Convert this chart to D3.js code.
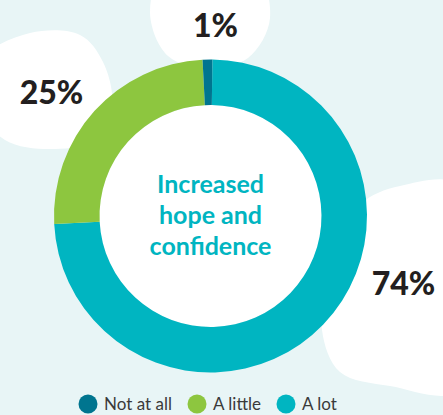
<!DOCTYPE html>
<html>
<head>
<meta charset="utf-8">
<script src="https://cdn.jsdelivr.net/npm/d3@7"></script>
<style>
  html, body { margin: 0; padding: 0; background: #e8f5f6; }
  svg { display: block; }
</style>
</head>
<body>
<svg id="donut" width="443" height="415"></svg>
<script>
// data
const categories = ["A lot", "A little", "Not at all"];
const values = [74, 25, 1];
const legendOrder = ["Not at all", "A little", "A lot"];
const colors = ["#00b5c1", "#8dc63f", "#00758f"];
const title = ["Increased", "hope and", "confidence"];

const donut = () => {
    const svg = d3.select('#donut');
    const width = +svg.attr("width");
    const height = +svg.attr("height");

    const cx = 210.5, cy = 216;
    const outerR = 156.5, innerR = 111;
    const rot = 0.012;

    svg.append("rect")
        .attr("width", width)
        .attr("height", height)
        .attr("fill", "#e8f5f6");

    // white blobs behind the labels
    const blob = d3.line().curve(d3.curveCatmullRomClosed.alpha(0.5));
    const blobs = [
        [[150, 12], [170, -40], [250, -40], [270, 18], [248, 58], [208, 68], [168, 56]],
        [[-20, 60], [30, 33], [80, 35], [103, 62], [112, 105], [95, 140], [55, 149], [5, 140], [-25, 100]],
        [[360, 205], [400, 186], [460, 186], [460, 390], [390, 386], [340, 372], [322, 330], [330, 270]]
    ];
    svg.append("g").selectAll("path")
        .data(blobs)
        .enter()
        .append("path")
        .attr("d", blob)
        .attr("fill", "#ffffff");

    const pie = d3.pie().sort(null).value(d => d.value)
        .startAngle(rot).endAngle(2 * Math.PI + rot);
    const arcs = pie(categories.map((c, i) => ({category: c, value: values[i], color: colors[i]})));
    const arc = d3.arc().innerRadius(innerR).outerRadius(outerR);

    const g = svg.append("g").attr("transform", `translate(${cx},${cy})`);

    g.append("circle").attr("r", innerR).attr("fill", "#ffffff");

    g.selectAll("path")
        .data(arcs)
        .enter()
        .append("path")
        .attr("d", arc)
        .attr("fill", d => d.data.color);

    // percentage labels
    const labelPos = {"A lot": [193, 67], "A little": [-159, -124], "Not at all": [5, -191]};
    g.selectAll("text.pct")
        .data(arcs)
        .enter()
        .append("text")
        .attr("class", "pct")
        .attr("x", d => labelPos[d.data.category][0])
        .attr("y", d => labelPos[d.data.category][1])
        .attr("dy", "0.36em")
        .attr("text-anchor", "middle")
        .attr("font-family", "Lato, sans-serif")
        .attr("font-weight", 900)
        .attr("font-size", 32)
        .attr("fill", "#231f20")
        .text(d => d.data.value + "%");

    // centre title
    g.selectAll("text.title")
        .data(title)
        .enter()
        .append("text")
        .attr("class", "title")
        .attr("x", 0)
        .attr("y", (d, i) => -23 + i * 31)
        .attr("text-anchor", "middle")
        .attr("font-family", "Lato, sans-serif")
        .attr("font-weight", 700)
        .attr("font-size", 25)
        .attr("fill", "#00b5c1")
        .text(d => d);

    // legend
    const legendX = {"Not at all": 88, "A little": 197, "A lot": 286};
    const colorOf = d3.scaleOrdinal().domain(categories).range(colors);
    const lg = svg.append("g").attr("transform", "translate(0,404)");
    const item = lg.selectAll("g")
        .data(legendOrder)
        .enter()
        .append("g")
        .attr("transform", d => `translate(${legendX[d]},0)`);
    item.append("circle")
        .attr("r", 9.5)
        .attr("fill", d => colorOf(d));
    item.append("text")
        .attr("x", 16)
        .attr("dy", "0.35em")
        .attr("font-family", "Lato, sans-serif")
        .attr("font-size", 17)
        .attr("fill", "#3a3a3a")
        .text(d => d);
};

donut();
</script>
</body>
</html>
